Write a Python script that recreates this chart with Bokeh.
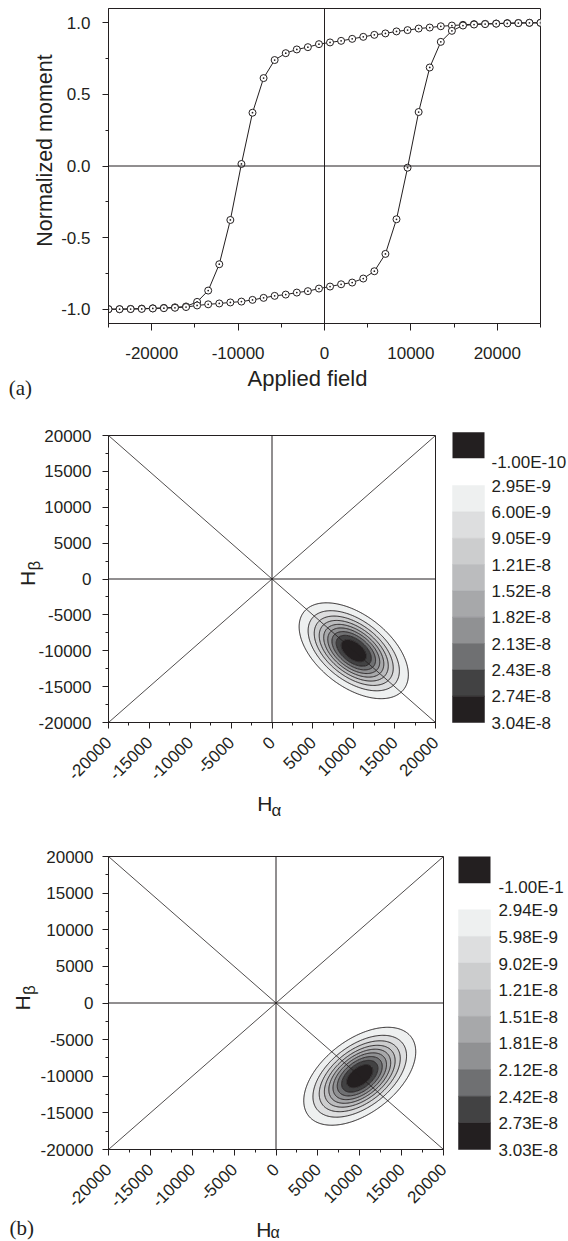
import math
import numpy as np
from bokeh.plotting import figure
from bokeh.models import Range1d, FixedTicker, Span, Slope, GridBox
from bokeh.layouts import column
from bokeh.embed import file_html
from bokeh.resources import INLINE
from bokeh.core.properties import value

INK = "#231f20"
SANS = "Liberation Sans"
SERIF = "Liberation Serif"
PAGE_W, PAGE_H = 568, 1241

# ---------------- Panel (a): hysteresis loop ----------------
applied_field = [-25000, -23718, -22436, -21154, -19872, -18590, -17308, -16026, -14744, -13462,
                 -12179, -10897, -9615, -8333, -7051, -5769, -4487, -3205, -1923, -641,
                 641, 1923, 3205, 4487, 5769, 7051, 8333, 9615, 10897, 12179,
                 13462, 14744, 16026, 17308, 18590, 19872, 21154, 22436, 23718, 25000]
# branch measured with decreasing field (upper branch)
moment_decreasing = [-1.000, -1.000, -0.998, -0.996, -0.994, -0.991, -0.987, -0.981, -0.949, -0.870,
                     -0.686, -0.377, 0.014, 0.372, 0.614, 0.740, 0.788, 0.814, 0.830, 0.851,
                     0.863, 0.874, 0.888, 0.902, 0.916, 0.926, 0.940, 0.949, 0.960, 0.967,
                     0.976, 0.981, 0.986, 0.991, 0.993, 0.995, 0.998, 0.999, 1.000, 1.000]
# branch measured with increasing field (lower branch)
moment_increasing = [-1.000, -1.000, -0.999, -0.998, -0.995, -0.993, -0.990, -0.985, -0.974, -0.966,
                     -0.960, -0.953, -0.947, -0.935, -0.921, -0.907, -0.898, -0.884, -0.874, -0.856,
                     -0.842, -0.826, -0.814, -0.786, -0.735, -0.614, -0.372, -0.012, 0.377, 0.688,
                     0.867, 0.944, 0.981, 0.988, 0.991, 0.994, 0.996, 0.998, 1.000, 1.000]

a_xticks = [-20000, -10000, 0, 10000, 20000]
a_xtick_labels = ["-20000", "-10000", "0", "10000", "20000"]
a_xminor = [-25000, -15000, -5000, 5000, 15000, 25000]
a_yticks = [-1.0, -0.5, 0.0, 0.5, 1.0]
a_ytick_labels = ["-1.0", "-0.5", "0.0", "0.5", "1.0"]
a_yminor = [-0.75, -0.25, 0.25, 0.75]

# ---------------- Panels (b): distributions ----------------
h_ticks = [-20000, -15000, -10000, -5000, 0, 5000, 10000, 15000, 20000]
h_tick_labels = ["-20000", "-15000", "-10000", "-5000", "0", "5000", "10000", "15000", "20000"]
h_minor = [-17500, -12500, -7500, -2500, 2500, 7500, 12500, 17500]

band_colors = ["#eef0f0", "#dddedf", "#cccdce", "#bbbcbe", "#a7a8aa", "#909193",
               "#6f7072", "#424243", "#231f20"]
swatch_color = "#231f20"

top_levels = [2.95e-9, 6.00e-9, 9.05e-9, 1.21e-8, 1.52e-8, 1.82e-8, 2.13e-8, 2.43e-8, 2.74e-8, 3.04e-8]
top_level_labels = ["2.95E-9", "6.00E-9", "9.05E-9", "1.21E-8", "1.52E-8", "1.82E-8",
                    "2.13E-8", "2.43E-8", "2.74E-8", "3.04E-8"]
top_swatch_label = "-1.00E-10"

bot_levels = [2.94e-9, 5.98e-9, 9.02e-9, 1.21e-8, 1.51e-8, 1.81e-8, 2.12e-8, 2.42e-8, 2.73e-8, 3.03e-8]
bot_level_labels = ["2.94E-9", "5.98E-9", "9.02E-9", "1.21E-8", "1.51E-8", "1.81E-8",
                    "2.12E-8", "2.42E-8", "2.73E-8", "3.03E-8"]
bot_swatch_label = "-1.00E-1"

# distribution parameters
peak_center = (10000, -10000)
peak_sigma = 3080
peak_amplitude = 3.1e-8
top_correlation = -0.5
bot_correlation = 0.5


def style_axes(p, xstand, ystand, xtick_out=6):
    p.xgrid.visible = False
    p.ygrid.visible = False
    p.outline_line_color = INK
    p.outline_line_width = 1
    p.outline_line_alpha = 1
    p.background_fill_color = "white"
    p.border_fill_color = "white"
    for ax in (p.xaxis[0], p.yaxis[0]):
        ax.axis_line_color = INK
        ax.axis_line_width = 1
        ax.major_tick_line_color = INK
        ax.minor_tick_line_color = INK
        ax.major_tick_in = 0
        ax.minor_tick_in = 0
        ax.major_tick_out = 6
        ax.minor_tick_out = 3
        ax.major_label_text_font = SANS
        ax.major_label_text_font_size = "17px"
        ax.major_label_text_color = INK
    p.xaxis[0].major_tick_out = xtick_out
    p.xaxis[0].major_label_standoff = xstand
    p.yaxis[0].major_label_standoff = ystand


def ref_lines(p, diagonals):
    p.add_layout(Span(location=0, dimension="height", line_color=INK, line_width=1))
    p.add_layout(Span(location=0, dimension="width", line_color=INK, line_width=1))
    if diagonals:
        p.add_layout(Slope(gradient=1, y_intercept=0, line_color=INK, line_width=0.8))
        p.add_layout(Slope(gradient=-1, y_intercept=0, line_color=INK, line_width=0.8))


# ---------- figure (a): page y 0..420 ----------
pa = figure(frame_width=432, frame_height=315, x_range=Range1d(-25000, 25000), y_range=Range1d(-1.1, 1.1),
            toolbar_location=None, output_backend="svg", title=None,
            min_border_left=99, min_border_right=PAGE_W - 99 - 432, min_border_top=8, min_border_bottom=97)
style_axes(pa, xstand=16, ystand=12, xtick_out=7)
pa.xaxis.ticker = FixedTicker(ticks=a_xticks, minor_ticks=a_xminor)
pa.xaxis.major_label_overrides = {t: s for t, s in zip(a_xticks, a_xtick_labels)}
pa.yaxis.ticker = FixedTicker(ticks=a_yticks, minor_ticks=a_yminor)
pa.yaxis.major_label_overrides = {t: s for t, s in zip(a_yticks, a_ytick_labels)}
pa.xaxis.minor_tick_out = 4
ref_lines(pa, diagonals=False)
pa.line(applied_field, moment_decreasing, line_color=INK, line_width=1)
pa.line(applied_field, moment_increasing, line_color=INK, line_width=1)
pa.scatter(applied_field, moment_decreasing, marker="circle_dot", size=7, fill_color="white",
           line_color=INK, line_width=1)
pa.scatter(applied_field, moment_increasing, marker="circle_dot", size=7, fill_color="white",
           line_color=INK, line_width=1)


def forc_panel(left_b, frame_w, frame_h, top_b, bottom_b, rho, levels, ystand):
    p = figure(frame_width=frame_w, frame_height=frame_h, x_range=Range1d(-20000, 20000),
               y_range=Range1d(-20000, 20000), toolbar_location=None, output_backend="svg", title=None,
               min_border_left=left_b, min_border_right=PAGE_W - left_b - frame_w, min_border_top=top_b,
               min_border_bottom=bottom_b)
    style_axes(p, xstand=11, ystand=ystand)
    for ax in (p.xaxis, p.yaxis):
        ax.ticker = FixedTicker(ticks=h_ticks, minor_ticks=h_minor)
        ax.major_label_overrides = {t: s for t, s in zip(h_ticks, h_tick_labels)}
    p.xaxis.major_label_orientation = math.pi / 4
    gx = np.linspace(-20000, 20000, 401)
    gy = np.linspace(-20000, 20000, 401)
    X, Y = np.meshgrid(gx, gy)
    dx = (X - peak_center[0]) / peak_sigma
    dy = (Y - peak_center[1]) / peak_sigma
    Z = peak_amplitude * np.exp(-0.5 * (dx * dx - 2 * rho * dx * dy + dy * dy) / (1 - rho * rho))
    lv = list(levels)
    lv[-1] = max(lv[-1], float(Z.max()) * 1.0001)
    p.contour(gx, gy, Z, lv, fill_color=band_colors, line_color=INK, line_width=1)
    ref_lines(p, diagonals=True)
    return p


# ---------- first distribution: page y 420..840 ----------
pb = forc_panel(108, 327, 287, 15, 118, top_correlation, top_levels, ystand=11)
# ---------- second distribution: page y 840..1241 ----------
pc = forc_panel(102, 335, 293, 16, 92, bot_correlation, bot_levels, ystand=9)

# ---------- transparent overlay (page pixel coordinates) for titles and colour keys ----------
ov = figure(width=PAGE_W, height=PAGE_H, x_range=Range1d(0, PAGE_W), y_range=Range1d(PAGE_H, 0),
            toolbar_location=None, output_backend="svg", min_border=0, x_axis_type=None, y_axis_type=None,
            title=None)
ov.outline_line_color = None
ov.background_fill_color = None
ov.border_fill_color = None
ov.grid.visible = False


def otext(txt, x, y, size, font=SANS, angle=0.0, align="left", baseline="alphabetic"):
    ov.text(x=[x], y=[y], text=[txt], angle=angle, text_font=value(font), text_font_size=value(size),
            text_color=INK, text_align=value(align), text_baseline=value(baseline))


# panel (a) titles
otext("Applied field", 307, 378, "22px", align="center")
otext("Normalized moment", 44.5, 150, "21.5px", angle=math.pi / 2, align="center")
otext("(a)", 8.3, 387, "21px", font=SERIF)

# first distribution titles
otext("H", 272, 803, "21px", align="right")
otext("\u03b1", 271, 810, "17px")
otext("H", 27, 578, "21px", angle=math.pi / 2, align="center")
otext("\u03b2", 34, 570, "17px", angle=math.pi / 2, align="left")

# second distribution titles
otext("H", 271, 1229, "21px", align="right")
otext("\u03b1", 270, 1232, "16px")
otext("H", 22, 1002.5, "21px", angle=math.pi / 2, align="center")
otext("\u03b2", 29, 994.5, "17px", angle=math.pi / 2, align="left")
otext("(b)", 9, 1227.5, "21px", font=SERIF)


def colour_key(sw_l, sw_r, sw_t, sw_b, band_t, band_b, labels, swatch_label, lab_x, sw_lab_y, lab_off):
    n = len(band_colors)
    step = (band_b - band_t) / n
    tops = [band_t + i * step for i in range(n)]
    bottoms = [band_t + (i + 1) * step for i in range(n)]
    ov.quad(left=sw_l, right=sw_r, top=tops, bottom=bottoms, fill_color=band_colors,
            line_color=band_colors, line_width=0.5)
    ov.quad(left=[sw_l], right=[sw_r], top=[sw_t], bottom=[sw_b], fill_color=swatch_color, line_color=None)
    ys = [sw_lab_y] + [band_t + i * step + lab_off for i in range(len(labels))]
    ov.text(x=[lab_x] * len(ys), y=ys, text=[swatch_label] + labels, text_font=value(SANS),
            text_font_size=value("17px"), text_color=INK, text_baseline=value("middle"),
            text_align=value("left"))


colour_key(452, 484, 431.7, 457.7, 485, 722, top_level_labels, top_swatch_label, 491, 462, 0.5)
colour_key(458, 490, 856, 882.7, 909.3, 1149, bot_level_labels, bot_swatch_label, 498, 886.7, 1.0)

charts = column(pa, pb, pc)
layout = GridBox(children=[(charts, 0, 0), (ov, 0, 0)])
open("out.html", "w").write(file_html(layout, INLINE))
